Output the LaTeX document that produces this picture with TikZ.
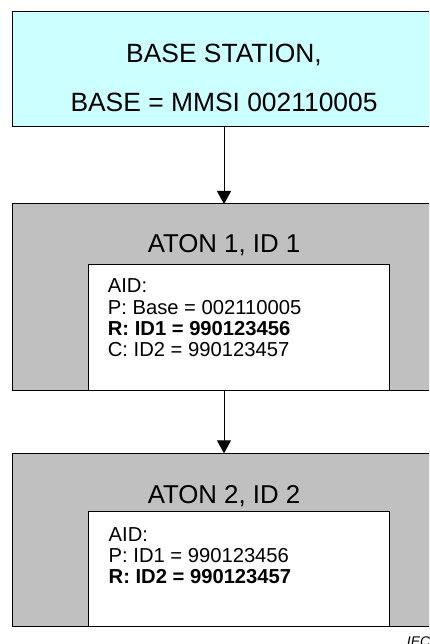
\documentclass[tikz,border=0pt]{standalone}
\usepackage{fontspec}
\setmainfont{Liberation Sans}
\usepackage{tikz}
\usetikzlibrary{arrows.meta}
\definecolor{basecyan}{HTML}{CCFFFF}
\definecolor{atongray}{HTML}{C0C0C0}

\begin{document}
\begin{tikzpicture}[x=1pt,y=-1pt,
 outerbox/.style={draw, line width=1pt, inner sep=0pt, outer sep=0pt, minimum width=423.4pt},
 aidbox/.style={draw, fill=white, line width=1pt, inner sep=0pt, outer sep=0pt, minimum width=301.7pt},
 bigtext/.style={inner sep=0pt, align=center, font=\fontsize{25.8}{49}\selectfont},
 aidtext/.style={inner sep=0pt, align=left, anchor=north west, font=\fontsize{20.2}{21.3}\selectfont},
 flow/.style={line width=1pt, -{Triangle[width=14pt,length=13pt]}}]
\useasboundingbox (0,0) rectangle (429,644);
\clip (0,0) rectangle (429,644);
% Base Station
\node[outerbox, fill=basecyan, minimum height=115pt] (base) at (224, 69.2) {};
\node[bigtext, anchor=north, font=\fontsize{26.4}{49}\selectfont] (basetxt) at (224, 43.8) {BASE STATION,\\BASE = MMSI 002110005};
% AtoN 1
\node[outerbox, fill=atongray, minimum height=186pt] (aton1) at (224, 297) {};
\node[bigtext, anchor=base] (aton1txt) at (224, 252.3) {ATON 1, ID 1};
\node[aidbox, minimum height=125.7pt] (aid1) at (239, 327.2) {};
\node[aidtext] (aid1txt) at (107.7, 278.8) {AID:\\P: Base = 002110005\\\textbf{R: ID1 = 990123456}\\C: ID2 = 990123457};
% AtoN 2
\node[outerbox, fill=atongray, minimum height=173.4pt] (aton2) at (224, 540) {};
\node[bigtext, anchor=base] (aton2txt) at (224, 503.3) {ATON 2, ID 2};
\node[aidbox, minimum height=115.7pt] (aid2) at (239, 568.9) {};
\node[aidtext] (aid2txt) at (108.5, 527.2) {AID:\\P: ID1 = 990123456\\\textbf{R: ID2 = 990123457}};
% Edges
\draw[flow] (base.south) -- (aton1.north);
\draw[flow] (aton1.south) -- (aton2.north);
% Figure mark
\node[inner sep=0pt, anchor=base west, font=\fontsize{14}{16}\selectfont\itshape] (iec) at (406.7, 646) {IEC};
\end{tikzpicture}
\end{document}
